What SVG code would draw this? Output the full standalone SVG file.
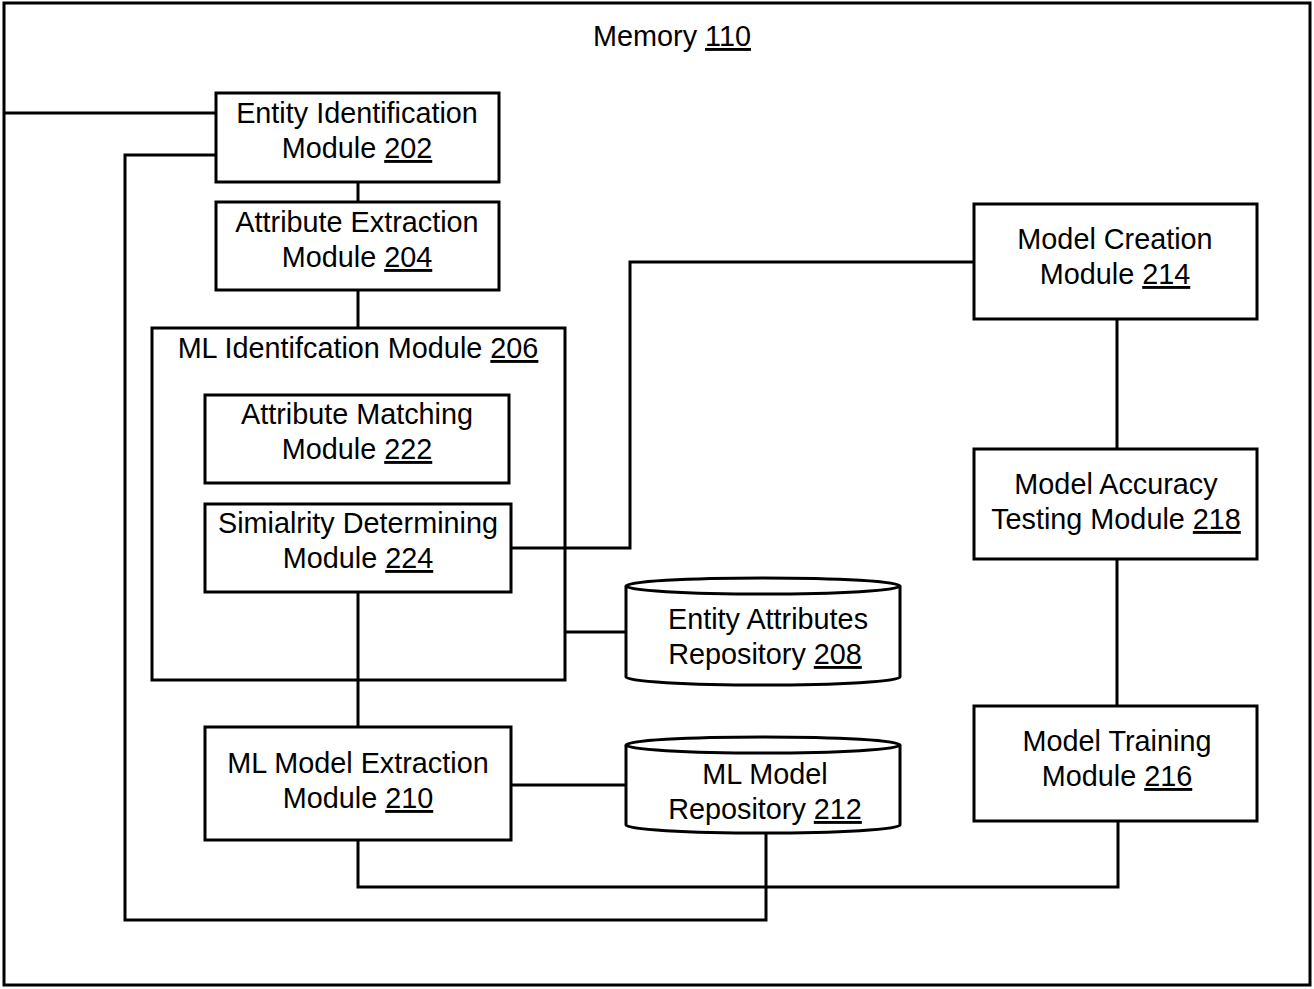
<svg xmlns="http://www.w3.org/2000/svg" width="1314" height="989" viewBox="0 0 1314 989">
<style>
.box{fill:#fff;stroke:#000;stroke-width:3}
.ln{fill:none;stroke:#000;stroke-width:3}
text{font-family:"Liberation Sans",Arial,sans-serif;font-size:28.8px;fill:#000;text-anchor:middle}
.u{text-decoration:underline}
</style>
<rect width="1314" height="989" fill="#fff"/>
<g id="memory">
<rect x="4" y="3" width="1306" height="982" class="box"/>
<text x="672" y="46">Memory <tspan class="u">110</tspan></text>
</g>
<g id="connectors">
<path class="ln" d="M4,113 H216"/>
<path class="ln" d="M216,155 H125 V920 H766 V833"/>
<path class="ln" d="M358,182 V202"/>
<path class="ln" d="M358,290 V328"/>
<path class="ln" d="M511,548 H630 V262 H974"/>
<path class="ln" d="M1117,319 V449"/>
<path class="ln" d="M1117,559 V706"/>
<path class="ln" d="M565,632 H626"/>
<path class="ln" d="M358,592 V727"/>
<path class="ln" d="M511,785 H626"/>
<path class="ln" d="M358,840 V887 H1118 V821"/>
</g>
<g id="n202">
<rect x="216" y="93" width="283" height="89" class="box"/>
<text x="357" y="123">Entity Identification</text>
<text x="357" y="158">Module <tspan class="u">202</tspan></text>
</g>
<g id="n204">
<rect x="216" y="202" width="283" height="88" class="box"/>
<text x="357" y="232">Attribute Extraction</text>
<text x="357" y="267">Module <tspan class="u">204</tspan></text>
</g>
<g id="n206">
<rect x="152" y="328" width="413" height="352" class="box" fill-opacity="0"/>
<text x="358" y="358">ML Identifcation Module <tspan class="u">206</tspan></text>
</g>
<g id="n222">
<rect x="205" y="395" width="304" height="88" class="box"/>
<text x="357" y="424">Attribute Matching</text>
<text x="357" y="459">Module <tspan class="u">222</tspan></text>
</g>
<g id="n224">
<rect x="205" y="504" width="306" height="88" class="box"/>
<text x="358" y="533">Simialrity Determining</text>
<text x="358" y="568">Module <tspan class="u">224</tspan></text>
</g>
<g id="n214">
<rect x="974" y="204" width="283" height="115" class="box"/>
<text x="1115" y="249">Model Creation</text>
<text x="1115" y="284">Module <tspan class="u">214</tspan></text>
</g>
<g id="n218">
<rect x="974" y="449" width="283" height="110" class="box"/>
<text x="1116" y="494">Model Accuracy</text>
<text x="1116" y="529">Testing Module <tspan class="u">218</tspan></text>
</g>
<g id="n216">
<rect x="974" y="706" width="283" height="115" class="box"/>
<text x="1117" y="751">Model Training</text>
<text x="1117" y="786">Module <tspan class="u">216</tspan></text>
</g>
<g id="n208">
<path class="box" d="M626,586 A137,8 0 0,1 900,586 V677 A137,8 0 0,1 626,677 Z"/>
<path class="ln" d="M626,586 A137,8 0 0,0 900,586"/>
<text x="768" y="629">Entity Attributes</text>
<text x="765" y="664">Repository <tspan class="u">208</tspan></text>
</g>
<g id="n212">
<path class="box" d="M626,745 A137,8 0 0,1 900,745 V825 A137,8 0 0,1 626,825 Z"/>
<path class="ln" d="M626,745 A137,8 0 0,0 900,745"/>
<text x="765" y="784">ML Model</text>
<text x="765" y="819">Repository <tspan class="u">212</tspan></text>
</g>
<g id="n210">
<rect x="205" y="727" width="306" height="113" class="box"/>
<text x="358" y="773">ML Model Extraction</text>
<text x="358" y="808">Module <tspan class="u">210</tspan></text>
</g>
</svg>
